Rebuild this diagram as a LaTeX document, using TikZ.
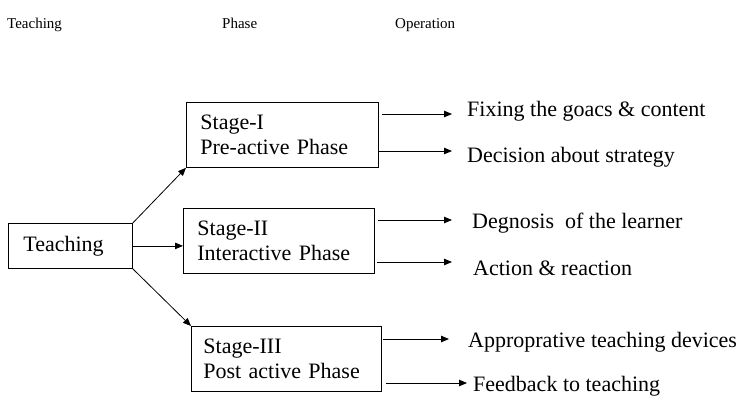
\documentclass[tikz,border=0pt]{standalone}
\usepackage{fontspec}
\setmainfont{Liberation Serif}
\usetikzlibrary{arrows.meta}
\begin{document}
\begin{tikzpicture}[x=1pt,y=-1pt,
  boxnode/.style={draw, line width=0.8pt, anchor=north west, align=left,
    font=\fontsize{22}{25}\selectfont, inner ysep=0pt},
  optext/.style={anchor=base west, inner sep=0pt, font=\fontsize{22}{25}\selectfont},
  headtext/.style={anchor=base west, inner sep=0pt, font=\fontsize{15}{18}\selectfont},
  arr/.style={line width=0.8pt, -{Triangle[length=8pt,width=6.5pt]}}]
\useasboundingbox (0,0) rectangle (744,399);
% headers
\node[headtext] (h1) at (7,28) {Teaching};
\node[headtext] (h2) at (222,28) {Phase};
\node[headtext] (h3) at (395,28) {Operation};
% boxes
\node[boxnode, inner xsep=15pt, text width=94pt, minimum height=45pt] (t) at (8,223) {Teaching};
\node[boxnode, inner xsep=14pt, text width=164pt, minimum height=65pt] (s1) at (186,102) {Stage-I\\Pre-active Phase};
\node[boxnode, inner xsep=14pt, text width=163pt, minimum height=65pt] (s2) at (183,208) {Stage-II\\Interactive Phase};
\node[boxnode, inner xsep=12pt, text width=166pt, minimum height=65pt] (s3) at (191,326) {Stage-III\\Post active Phase};
% operations
\node[optext] (o1) at (467,116) {Fixing the goacs \& content};
\node[optext] (o2) at (467,162) {Decision about strategy};
\node[optext] (o3) at (472,228) {Degnosis\ \ of the learner};
\node[optext] (o4) at (473,275) {Action \& reaction};
\node[optext] (o5) at (468,347) {Approprative teaching devices};
\node[optext] (o6) at (473,391) {Feedback to teaching};
% connectors from Teaching
\draw[arr] (t.north east) -- (s1.south west);
\draw[arr] (t.east) -- (t.east -| s2.west);
\draw[arr] (t.south east) -- (s3.north west);
% arrow end points
\coordinate (a1) at (452,114);
\coordinate (a2) at (452,151);
\coordinate (a3) at (452,220);
\coordinate (a4) at (452,262);
\coordinate (a5) at (449,339);
\coordinate (a6) at (467,383);
\draw[arr] ([xshift=3pt]s1.east |- a1) -- (a1);
\draw[arr] (s1.east |- a2) -- (a2);
\draw[arr] ([xshift=3pt]s2.east |- a3) -- (a3);
\draw[arr] ([xshift=2pt]s2.east |- a4) -- (a4);
\draw[arr] ([xshift=1pt]s3.east |- a5) -- (a5);
\draw[arr] ([xshift=4pt]s3.east |- a6) -- (a6);
\end{tikzpicture}
\end{document}
